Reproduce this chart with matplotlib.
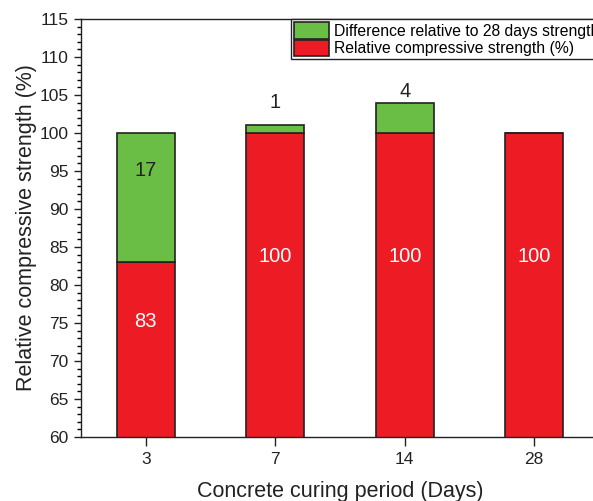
import matplotlib.pyplot as plt
import numpy as np

plt.rcParams['font.family'] = ['Liberation Sans', 'DejaVu Sans']

days = ['3', '7', '14', '28']
relative = [83, 100, 100, 100]
difference = [17, 1, 4, 0]

red = '#ED1C24'
green = '#6ABD45'

fig = plt.figure(figsize=(5.93, 5.01), dpi=100)
ax = fig.add_axes([0.1366, 0.1277, 0.8735, 0.8343])

x = np.arange(len(days))
w = 0.45
b1 = ax.bar(x, relative, w, color=red, edgecolor='#222222', linewidth=1.2,
            label='Relative compressive strength (%)', zorder=2)
b2 = ax.bar(x, difference, w, bottom=relative, color=green, edgecolor='#222222',
            linewidth=1.2, label='Difference relative to 28 days strength', zorder=2)

# value labels
for i in range(len(days)):
    r = relative[i]
    d = difference[i]
    ax.text(x[i], (67.4 + r) / 2, str(r), color='white', fontsize=14.5,
            ha='center', va='center', zorder=3)
    if d >= 10:
        ax.text(x[i], r + d - 4.9, str(d), color='#222222', fontsize=14.5,
                ha='center', va='center', zorder=3)
    elif d > 0:
        off = 23 if d < 2 else 11
        ax.annotate(str(d), (x[i], r + d), xytext=(0, off), textcoords='offset pixels',
                    color='#222222', fontsize=14.5, ha='center', va='center')

ax.set_xlim(-0.5, 3.5)
ax.set_ylim(60, 115)
ax.set_xticks(x)
ax.set_xticklabels(days)
ax.set_yticks(np.arange(60, 116, 5))
ax.set_yticks(np.arange(60, 116, 1), minor=True)
ax.tick_params(axis='both', which='major', direction='out', width=1,
               labelsize=12.5, colors='#222222')
ax.tick_params(axis='y', which='major', length=5, pad=4)
ax.tick_params(axis='x', which='major', length=6.5, pad=4.5)
ax.tick_params(axis='y', which='minor', direction='out', length=3, width=1)
ax.tick_params(axis='x', which='minor', bottom=False)

for s in ax.spines.values():
    s.set_linewidth(1)
    s.set_color('#222222')

ax.set_xlabel('Concrete curing period (Days)', fontsize=15.5, color='#222222', labelpad=10)
ax.set_ylabel('Relative compressive strength (%)', fontsize=15.5, color='#222222', labelpad=2)

leg = ax.legend(handles=[b2, b1], loc='upper left', bbox_to_anchor=(0.4907, 0.962),
                bbox_transform=fig.transFigure, fontsize=11.3, frameon=True,
                fancybox=False, edgecolor='#222222', framealpha=1,
                handlelength=2.2, handleheight=1.2, handletextpad=0.34,
                labelspacing=0.05, borderpad=0.22, borderaxespad=0)
leg.get_frame().set_linewidth(1)

fig.savefig('out.png', dpi=100)
